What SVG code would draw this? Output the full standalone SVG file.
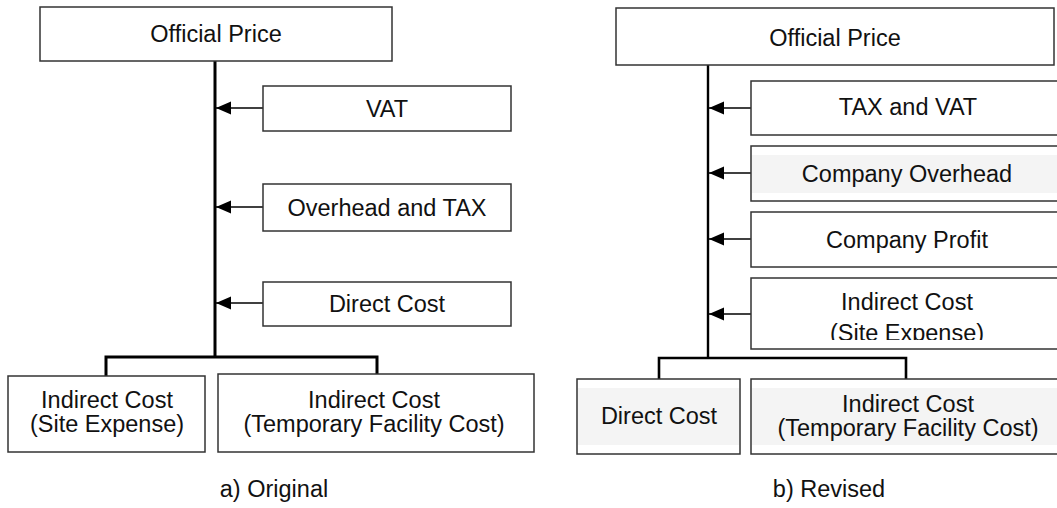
<svg xmlns="http://www.w3.org/2000/svg" width="1057" height="508" viewBox="0 0 1057 508">
  <style>
    .box { fill: #ffffff; stroke: #333333; stroke-width: 1.5; }
    .band { fill: #f4f4f4; stroke: none; }
    .lbl { font-family: "Liberation Sans", Arial, sans-serif; font-size: 23.5px; fill: #111111; text-anchor: middle; }
    .trunk { stroke: #000000; fill: none; stroke-linejoin: miter; }
    .feed { stroke: #000000; stroke-width: 1.6; fill: none; }
  </style>
  <defs>
    <!-- solid triangular head; tip sits on the line end -->
    <marker id="head" markerWidth="17" markerHeight="16" refX="16" refY="8" orient="auto" markerUnits="userSpaceOnUse">
      <path d="M16,8 L1,1.5 L1,14.5 Z" fill="#000000"/>
    </marker>
    <clipPath id="siteClip">
      <rect x="751" y="278" width="310" height="62"/>
    </clipPath>
  </defs>

  <rect width="1057" height="508" fill="#ffffff"/>

  <!-- connectors -->
  <g id="connectors">
    <!-- a) trunk and split -->
    <path class="trunk" stroke-width="3" d="M215,61 V357"/>
    <path class="trunk" stroke-width="3" d="M106,376 V357 H377 V374"/>
    <line class="feed" x1="263" y1="108" x2="216" y2="108" marker-end="url(#head)"/>
    <line class="feed" x1="263" y1="207" x2="216" y2="207" marker-end="url(#head)"/>
    <line class="feed" x1="263" y1="303" x2="216" y2="303" marker-end="url(#head)"/>
    <!-- b) trunk and split -->
    <path class="trunk" stroke-width="2.4" d="M708,65 V358"/>
    <path class="trunk" stroke-width="2.6" d="M659,379 V358 H906 V379"/>
    <line class="feed" x1="751" y1="108" x2="709" y2="108" marker-end="url(#head)"/>
    <line class="feed" x1="751" y1="173" x2="709" y2="173" marker-end="url(#head)"/>
    <line class="feed" x1="751" y1="239" x2="709" y2="239" marker-end="url(#head)"/>
    <line class="feed" x1="751" y1="314" x2="709" y2="314" marker-end="url(#head)"/>
  </g>

  <!-- a) Original -->
  <g id="a-official-price">
    <rect class="box" x="40" y="7" width="352" height="54"/>
    <text class="lbl" x="216" y="42">Official Price</text>
  </g>
  <g id="a-vat">
    <rect class="box" x="263" y="86" width="248" height="45"/>
    <text class="lbl" x="387" y="117">VAT</text>
  </g>
  <g id="a-overhead-tax">
    <rect class="box" x="263" y="184" width="248" height="47"/>
    <text class="lbl" x="387" y="216">Overhead and TAX</text>
  </g>
  <g id="a-direct-cost">
    <rect class="box" x="263" y="282" width="248" height="44"/>
    <text class="lbl" x="387" y="312">Direct Cost</text>
  </g>
  <g id="a-indirect-site">
    <rect class="box" x="8" y="376" width="197" height="76"/>
    <text class="lbl" x="107" y="408">Indirect Cost</text>
    <text class="lbl" x="107" y="432">(Site Expense)</text>
  </g>
  <g id="a-indirect-temp">
    <rect class="box" x="218" y="374" width="316" height="78"/>
    <text class="lbl" x="374" y="408">Indirect Cost</text>
    <text class="lbl" x="374" y="432">(Temporary Facility Cost)</text>
  </g>
  <g id="a-caption">
    <text class="lbl" x="274" y="497">a) Original</text>
  </g>

  <!-- b) Revised -->
  <g id="b-official-price">
    <rect class="box" x="616" y="8" width="438" height="57"/>
    <text class="lbl" x="835" y="46">Official Price</text>
  </g>
  <g id="b-tax-vat">
    <rect class="box" x="751" y="81" width="312" height="54"/>
    <text class="lbl" x="908" y="115">TAX and VAT</text>
  </g>
  <g id="b-company-overhead">
    <rect class="box" x="751" y="146" width="312" height="55"/>
    <rect class="band" x="752" y="155" width="305" height="38"/>
    <text class="lbl" x="907" y="182">Company Overhead</text>
  </g>
  <g id="b-company-profit">
    <rect class="box" x="751" y="212" width="312" height="55"/>
    <text class="lbl" x="907" y="248">Company Profit</text>
  </g>
  <g id="b-indirect-site">
    <rect class="box" x="751" y="278" width="312" height="71"/>
    <text class="lbl" x="907" y="310">Indirect Cost</text>
    <text class="lbl" x="907" y="341" clip-path="url(#siteClip)">(Site Expense)</text>
  </g>
  <g id="b-direct-cost">
    <rect class="box" x="577" y="379" width="163" height="75"/>
    <rect class="band" x="578" y="388" width="161" height="57"/>
    <text class="lbl" x="659" y="424">Direct Cost</text>
  </g>
  <g id="b-indirect-temp">
    <rect class="box" x="751" y="379" width="312" height="75"/>
    <rect class="band" x="752" y="388" width="305" height="57"/>
    <text class="lbl" x="908" y="412">Indirect Cost</text>
    <text class="lbl" x="908" y="436">(Temporary Facility Cost)</text>
  </g>
  <g id="b-caption">
    <text class="lbl" x="829" y="497">b) Revised</text>
  </g>
</svg>
